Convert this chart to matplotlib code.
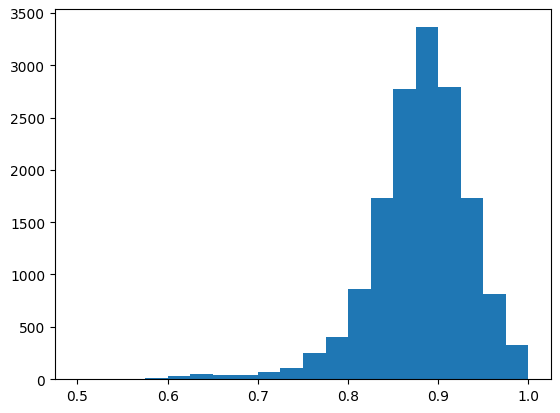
import numpy as np
import matplotlib
matplotlib.use('Agg')
import matplotlib.pyplot as plt

# bin edges: 20 bins from 0.5 to 1.0
edges = np.linspace(0.5, 1.0, 21)
counts = [0, 1, 3, 10, 28, 48, 38, 38, 70, 105,
          250, 405, 865, 1730, 2770, 3370, 2790, 1730, 810, 330]

centers = (edges[:-1] + edges[1:]) / 2

fig = plt.figure(figsize=(5.6, 4.14), dpi=100)
ax = fig.add_axes([0.098, 0.082, 0.886, 0.894])
ax.hist(centers, bins=edges, weights=counts)
ax.set_yticks(np.arange(0, 3501, 500))
fig.savefig('out.png')
